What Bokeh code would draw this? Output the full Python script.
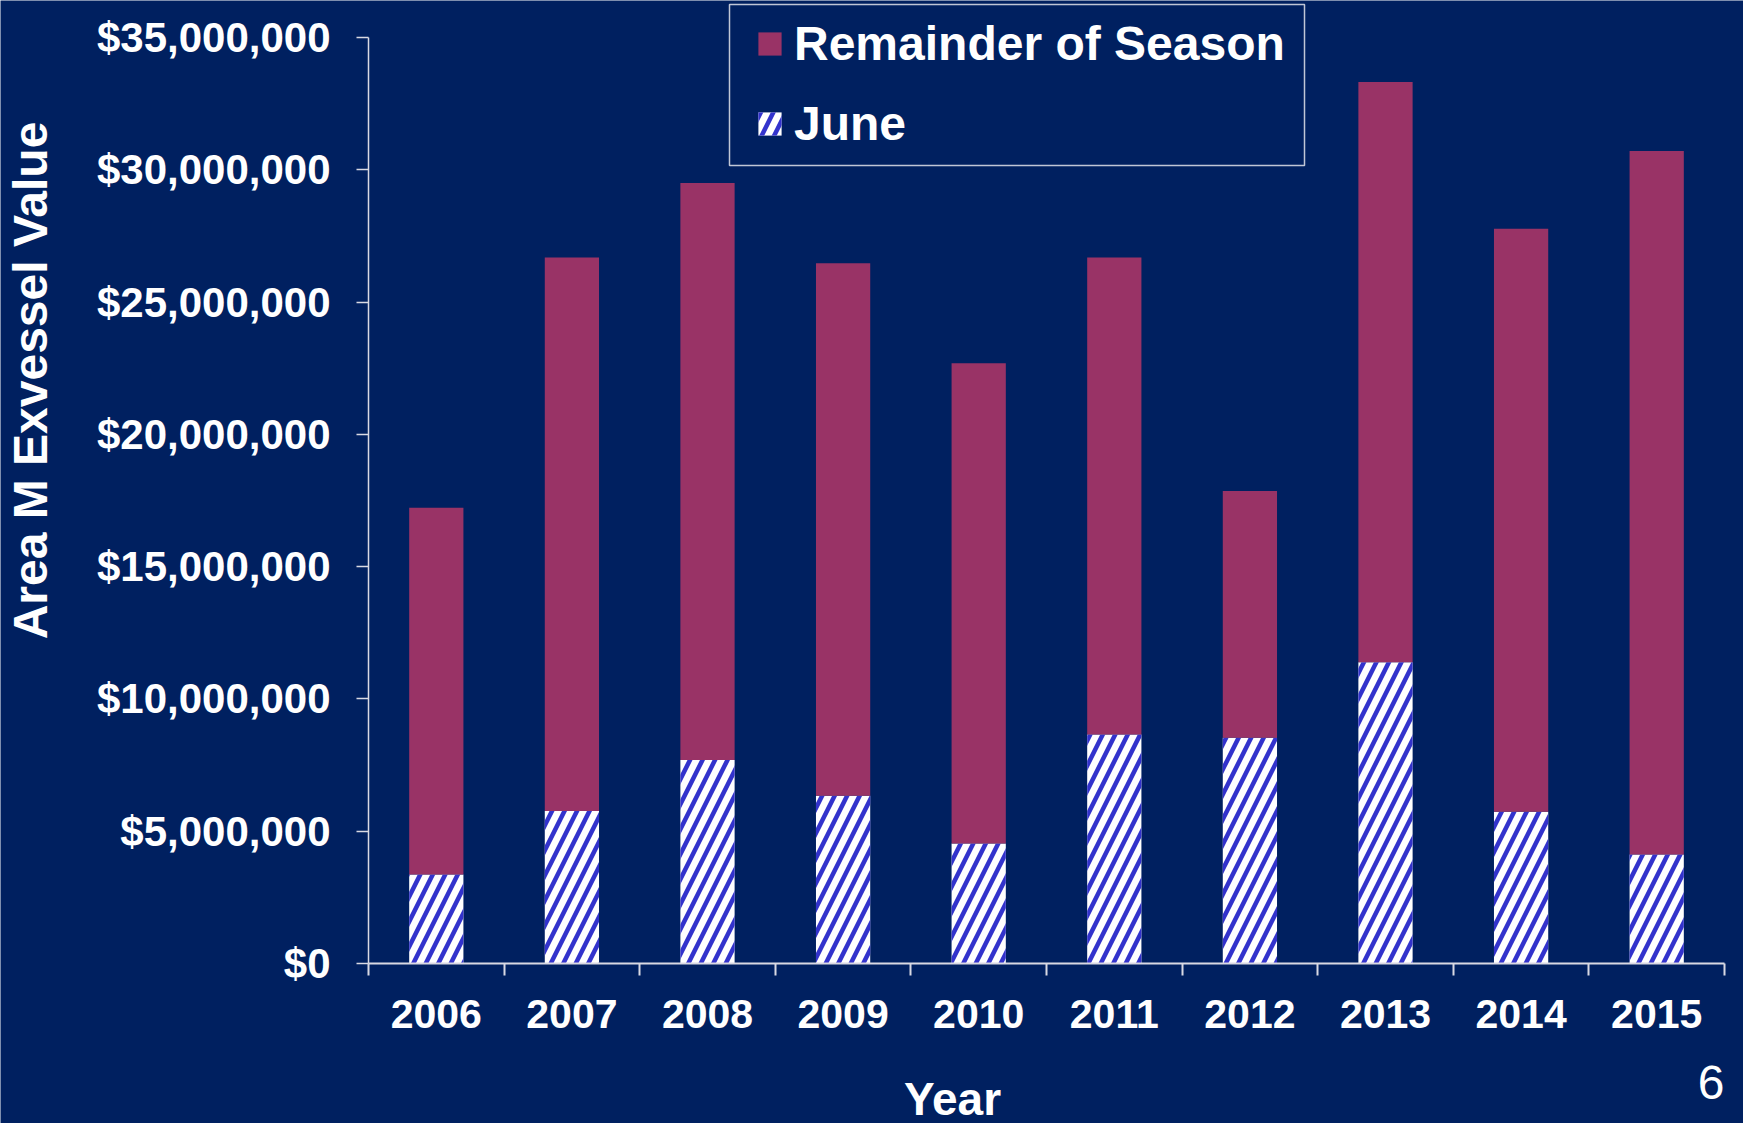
from bokeh.plotting import figure
from bokeh.models import (Range1d, FixedTicker, NumeralTickFormatter, Legend,
                          LegendItem, Label, ColumnDataSource, BoxAnnotation)
from bokeh.transform import stack
from bokeh.embed import file_html
from bokeh.resources import INLINE
import math

# ---- data ----
years = ["2006", "2007", "2008", "2009", "2010", "2011", "2012", "2013", "2014", "2015"]
june_value = [3360000, 5760000, 7690000, 6340000, 4540000, 8660000, 8530000, 11390000, 5740000, 4120000]
remainder_value = [13870000, 20920000, 21810000, 20130000, 18150000, 18020000, 9330000, 21930000, 22030000, 26590000]
y_ticks = [0, 5000000, 10000000, 15000000, 20000000, 25000000, 30000000, 35000000]

BG = "#002060"
MAROON = "#993366"
HATCH = "#3333CC"
AXIS = "#D9D9E3"
FONT = "Liberation Sans"

# ---- canvas geometry (pixels) ----
W, H = 1743, 1123
AX_LEFT, AX_RIGHT = 368, 1724      # x pixel of category range ends
AX_TOP, AX_BOTTOM = 37, 963        # y pixel of top tick / zero line

n = len(years)
xpos = list(range(1, n + 1))
ppx = (AX_RIGHT - AX_LEFT) / n                       # px per category
ppy = (AX_BOTTOM - AX_TOP) / (y_ticks[-1] - y_ticks[0])  # px per dollar

def dx(px):
    return 0.5 + (px - AX_LEFT) / ppx

def dy(py):
    return y_ticks[0] + (AX_BOTTOM - py) / ppy

src = ColumnDataSource(dict(x=xpos, june=june_value, remainder=remainder_value))

p = figure(width=W, height=H, output_backend="svg", toolbar_location=None,
           x_range=Range1d(dx(0), dx(W)), y_range=Range1d(dy(H), dy(0)),
           min_border=0, min_border_left=0, min_border_right=0,
           min_border_top=0, min_border_bottom=0)
p.background_fill_color = BG
p.border_fill_color = BG
p.outline_line_color = None
p.xgrid.visible = False
p.ygrid.visible = False

r_june = p.vbar(x="x", bottom=0, top="june", width=0.4, source=src,
                fill_color="white", line_color=None,
                hatch_pattern="/", hatch_color=HATCH, hatch_weight=4.5, hatch_scale=25)
r_rem = p.vbar(x="x", bottom="june", top=stack("june", "remainder"), width=0.4, source=src,
               fill_color=MAROON, line_color=None)

# ---- axes (drawn at fixed data locations) ----
xa = p.xaxis[0]
xa.fixed_location = y_ticks[0]
xa.bounds = (0.5, n + 0.5)
xa.ticker = FixedTicker(ticks=xpos, minor_ticks=[v - 0.5 for v in xpos] + [xpos[-1] + 0.5])
xa.major_label_overrides = {v: y for v, y in zip(xpos, years)}
xa.major_tick_out = 0
xa.major_tick_in = 0
xa.minor_tick_out = 12
xa.minor_tick_in = 0
xa.minor_tick_line_color = AXIS
xa.minor_tick_line_width = 2
xa.axis_line_color = AXIS
xa.axis_line_width = 2
xa.major_label_text_color = "white"
xa.major_label_text_font = FONT
xa.major_label_text_font_style = "bold"
xa.major_label_text_font_size = "41px"
xa.major_label_standoff = 24

ya = p.yaxis[0]
ya.fixed_location = 0.5
ya.bounds = (y_ticks[0], y_ticks[-1])
ya.ticker = FixedTicker(ticks=y_ticks, minor_ticks=[])
ya.formatter = NumeralTickFormatter(format="$0,0")
ya.major_tick_out = 12
ya.major_tick_in = 0
ya.major_tick_line_color = AXIS
ya.major_tick_line_width = 1.5
ya.minor_tick_line_color = None
ya.axis_line_color = AXIS
ya.axis_line_width = 1.5
ya.major_label_text_color = "white"
ya.major_label_text_font = FONT
ya.major_label_text_font_style = "bold"
ya.major_label_text_font_size = "42px"
ya.major_label_standoff = 26

# ---- axis titles & page number ----
p.add_layout(Label(x=dx(30), y=dy(380), text="Area M Exvessel Value", angle=math.pi / 2,
                   text_align="center", text_baseline="alphabetic", text_color="white",
                   text_font=FONT, text_font_style="bold", text_font_size="48px"))
p.add_layout(Label(x=dx(952), y=dy(1098), text="Year", text_align="center",
                   text_baseline="alphabetic", text_color="white",
                   text_font=FONT, text_font_style="bold", text_font_size="46px"))
p.add_layout(Label(x=dx(1724), y=dy(1082), text="6", text_align="right",
                   text_baseline="alphabetic", text_color="white",
                   text_font=FONT, text_font_size="48px"))

# ---- legend (frame drawn as a box, items without own border) ----
p.add_layout(BoxAnnotation(left=dx(729), right=dx(1304), top=dy(4), bottom=dy(165),
                           fill_color=BG, fill_alpha=1.0,
                           line_color="#C0C6D6", line_width=1.5, line_alpha=1.0))
legend = Legend(items=[LegendItem(label="Remainder of Season", renderers=[r_rem]),
                       LegendItem(label="June", renderers=[r_june])],
                location=(755, H - 154), orientation="vertical",
                padding=0, spacing=19, margin=0,
                glyph_width=29, glyph_height=29, label_height=61,
                label_standoff=10,
                label_text_color="white", label_text_font=FONT,
                label_text_font_style="bold", label_text_font_size="48px",
                background_fill_alpha=0.0, border_line_color=None)
p.add_layout(legend, "center")

open("out.html", "w").write(file_html(p, INLINE))
